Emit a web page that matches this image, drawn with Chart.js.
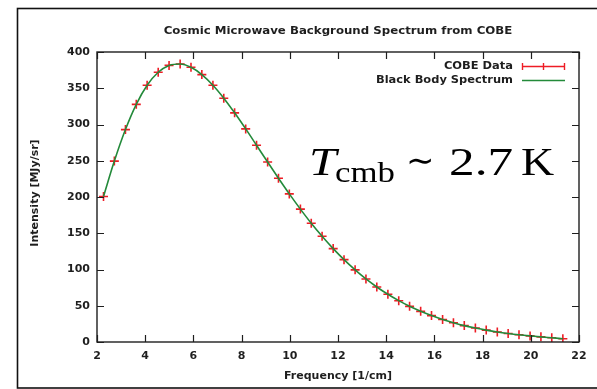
<!DOCTYPE html>
<html>
<head>
<meta charset="utf-8">
<script src="https://cdn.jsdelivr.net/npm/chart.js@4/dist/chart.umd.min.js"></script>
<style>
html,body{margin:0;padding:0;background:#fff;}
#wrap{width:597px;height:389px;position:relative;}
</style>
</head>
<body>
<div id="wrap"><canvas id="c" width="597" height="389"></canvas></div>
<script>
const frequency = [2.27,2.72,3.18,3.63,4.08,4.54,4.99,5.45,5.90,6.35,6.81,7.26,7.71,8.17,8.62,9.08,9.53,9.98,10.44,10.89,11.34,11.80,12.25,12.71,13.16,13.61,14.07,14.52,14.97,15.43,15.88,16.34,16.79,17.24,17.70,18.15,18.61,19.06,19.51,19.97,20.42,20.87,21.33];
const cobeIntensity = [200.7,249.5,293.0,327.8,354.1,372.1,381.5,383.5,378.9,368.8,354.1,336.3,316.1,293.9,271.4,248.2,225.9,204.3,183.3,163.8,145.8,128.8,113.6,99.5,87.0,75.9,65.8,57.0,49.2,42.3,36.4,31.1,26.6,22.6,19.3,16.4,13.8,11.7,9.9,8.4,7.1,5.8,4.5];
const blackBodyIntensity = [200.7,249.5,293.0,327.8,354.1,372.1,381.5,383.5,378.9,368.8,354.1,336.3,316.1,293.9,271.4,248.2,225.9,204.3,183.3,163.8,145.8,128.8,113.6,99.5,87.0,75.9,65.8,57.0,49.2,42.3,36.4,31.1,26.6,22.6,19.3,16.4,13.8,11.7,9.9,8.4,7.1,5.8,4.5];
const xTicks = [2,4,6,8,10,12,14,16,18,20,22];
const yTicks = [0,50,100,150,200,250,300,350,400];
const titleText = 'Cosmic Microwave Background Spectrum from COBE';
const xTitle = 'Frequency [1/cm]';
const yTitle = 'Intensity [MJy/sr]';
const seriesNames = ['COBE Data','Black Body Spectrum'];

const RED = '#ee1c25';
const GREEN = '#238a3a';
const INK = '#1e1e1e';
const SANS = '"DejaVu Sans", sans-serif';
const SERIF = '"Liberation Serif", "Times New Roman", serif';

const pts = (xs, ys) => xs.map((x, i) => ({x, y: ys[i]}));

function stretched(ctx, text, x, y, sx) {
  ctx.save();
  ctx.translate(x, y);
  ctx.scale(sx, 1);
  ctx.fillText(text, 0, 0);
  ctx.restore();
}

const deco = {
  id: 'deco',
  beforeDraw(chart) {
    const ctx = chart.ctx;
    ctx.save();
    ctx.fillStyle = '#fff';
    ctx.fillRect(0, 0, chart.width, chart.height);
    ctx.restore();
  },
  afterDraw(chart) {
    const ctx = chart.ctx;
    const a = chart.chartArea;
    const xs = chart.scales.x, ys = chart.scales.y;
    ctx.save();
    // outer border
    ctx.strokeStyle = '#111';
    ctx.lineWidth = 1.6;
    ctx.strokeRect(17.5, 8.5, chart.width + 5, chart.height - 9.5);
    // plot frame
    ctx.strokeStyle = INK;
    ctx.lineWidth = 1.4;
    ctx.strokeRect(a.left, a.top, a.right - a.left, a.bottom - a.top);
    // inward ticks on all sides
    ctx.lineWidth = 1.2;
    const tl = 7;
    xTicks.forEach(v => {
      const px = Math.round(xs.getPixelForValue(v)) + 0.5;
      ctx.beginPath();
      ctx.moveTo(px, a.bottom); ctx.lineTo(px, a.bottom - tl);
      ctx.moveTo(px, a.top); ctx.lineTo(px, a.top + tl);
      ctx.stroke();
    });
    yTicks.forEach(v => {
      const py = Math.round(ys.getPixelForValue(v)) + 0.5;
      ctx.beginPath();
      ctx.moveTo(a.left, py); ctx.lineTo(a.left + tl, py);
      ctx.moveTo(a.right, py); ctx.lineTo(a.right - tl, py);
      ctx.stroke();
    });
    // title
    ctx.fillStyle = INK;
    ctx.textAlign = 'center';
    ctx.textBaseline = 'middle';
    ctx.font = 'bold 11px ' + SANS;
    stretched(ctx, titleText, 338, 31, 1.07);
    // axis titles
    ctx.font = 'bold 11px ' + SANS;
    ctx.fillText(xTitle, (a.left + a.right) / 2, 376);
    ctx.save();
    ctx.translate(35, 193);
    ctx.rotate(-Math.PI / 2);
    ctx.fillText(yTitle, 0, 0);
    ctx.restore();
    // legend
    ctx.font = 'bold 11px ' + SANS;
    ctx.textAlign = 'right';
    stretched(ctx, seriesNames[0], 513, 66, 1.04);
    stretched(ctx, seriesNames[1], 513, 80, 1.04);
    ctx.strokeStyle = RED;
    ctx.lineWidth = 1.4;
    ctx.beginPath();
    ctx.moveTo(522, 66.5); ctx.lineTo(564, 66.5);
    ctx.moveTo(522.5, 63); ctx.lineTo(522.5, 70);
    ctx.moveTo(564.5, 63); ctx.lineTo(564.5, 70);
    ctx.moveTo(543.5, 63); ctx.lineTo(543.5, 70);
    ctx.stroke();
    ctx.strokeStyle = GREEN;
    ctx.beginPath();
    ctx.moveTo(522, 80.5); ctx.lineTo(565, 80.5);
    ctx.stroke();
    // annotation T_cmb ~ 2.7 K
    ctx.fillStyle = '#000';
    ctx.textAlign = 'left';
    ctx.textBaseline = 'alphabetic';
    ctx.font = 'italic 41px ' + SERIF;
    stretched(ctx, 'T', 309, 175, 1.2);
    ctx.font = '29px ' + SERIF;
    stretched(ctx, 'cmb', 335, 182, 1.2);
    ctx.font = '34px ' + SERIF;
    stretched(ctx, '\u223C', 406, 172, 1.0);
    ctx.font = '41px ' + SERIF;
    stretched(ctx, '2.7', 449, 175, 1.25);
    stretched(ctx, 'K', 521, 175, 1.12);
    ctx.restore();
  }
};

new Chart(document.getElementById('c'), {
  type: 'line',
  data: {
    datasets: [
      {
        label: seriesNames[1],
        data: pts(frequency, blackBodyIntensity),
        borderColor: GREEN,
        borderWidth: 1.6,
        pointRadius: 0,
        cubicInterpolationMode: 'monotone',
        fill: false,
        order: 0
      },
      {
        label: seriesNames[0],
        data: pts(frequency, cobeIntensity),
        showLine: false,
        pointStyle: 'cross',
        pointRadius: 4.5,
        pointBorderWidth: 1.6,
        pointBorderColor: RED,
        pointBackgroundColor: RED,
        order: 1
      }
    ]
  },
  options: {
    responsive: false,
    animation: false,
    layout: { padding: { left: 17, top: 52, right: 18, bottom: 0 } },
    plugins: { legend: { display: false }, title: { display: false }, tooltip: { enabled: false } },
    scales: {
      x: {
        type: 'linear',
        min: 2, max: 22,
        afterBuildTicks: s => { s.ticks = xTicks.map(v => ({value: v})); },
        afterFit: s => { s.height = 47; },
        grid: { display: false, drawTicks: false },
        border: { display: false },
        ticks: { color: INK, padding: 8, maxRotation: 0, font: { family: SANS, size: 11, weight: 'bold' } },
        title: { display: false }
      },
      y: {
        min: 0, max: 400,
        afterBuildTicks: s => { s.ticks = yTicks.map(v => ({value: v})); },
        afterFit: s => { s.width = 80; },
        grid: { display: false, drawTicks: false },
        border: { display: false },
        ticks: { color: INK, padding: 7, font: { family: SANS, size: 11, weight: 'bold' } },
        title: { display: false }
      }
    }
  },
  plugins: [deco]
});
</script>
</body>
</html>
